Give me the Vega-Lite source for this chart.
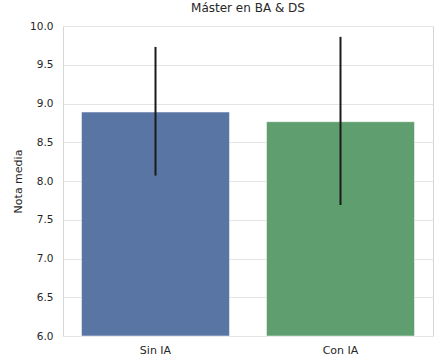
{
  "$schema": "https://vega.github.io/schema/vega-lite/v6.json",
  "width": 370,
  "height": 310,
  "autosize": {"type": "none"},
  "padding": {"left": 63, "top": 26, "right": 2, "bottom": 22},
  "config": {
    "font": "DejaVu Sans",
    "view": {"stroke": "#d6d6d6", "strokeWidth": 1},
    "axis": {
      "labelFont": "DejaVu Sans",
      "titleFont": "DejaVu Sans",
      "labelColor": "#262626",
      "titleColor": "#262626",
      "labelFontSize": 10.5,
      "titleFontSize": 11,
      "titleFontWeight": "normal",
      "labelOverlap": false,
      "domain": false,
      "ticks": false,
      "gridColor": "#e4e4e4",
      "gridWidth": 1
    }
  },
  "title": {
    "text": "Máster en BA & DS",
    "font": "DejaVu Sans",
    "fontSize": 12,
    "fontWeight": "normal",
    "color": "#262626",
    "offset": 6
  },
  "data": {
    "values": [
      {"grupo": "Sin IA", "media": 8.89, "lo": 8.07, "hi": 9.73},
      {"grupo": "Con IA", "media": 8.765, "lo": 7.69, "hi": 9.86}
    ]
  },
  "encoding": {
    "x": {
      "field": "grupo",
      "type": "nominal",
      "sort": ["Sin IA", "Con IA"],
      "scale": {"paddingInner": 0.2, "paddingOuter": 0.1},
      "axis": {"title": null, "labelAngle": 0, "labelPadding": 8, "labelFontSize": 11, "grid": false}
    }
  },
  "layer": [
    {
      "mark": {"type": "bar", "stroke": "white", "strokeWidth": 0.5},
      "encoding": {
        "y": {
          "field": "media",
          "type": "quantitative",
          "scale": {"domain": [6, 10], "clamp": true, "nice": false, "zero": false},
          "axis": {
            "title": "Nota media",
            "tickCount": 8,
            "format": ".1f",
            "labelPadding": 10,
            "titlePadding": 6,
            "grid": true
          }
        },
        "y2": {"datum": 6},
        "color": {
          "field": "grupo",
          "type": "nominal",
          "scale": {"domain": ["Sin IA", "Con IA"], "range": ["#5975a4", "#5f9e6e"]},
          "legend": null
        }
      }
    },
    {
      "mark": {"type": "rule", "color": "#1a1a1a", "strokeWidth": 2},
      "encoding": {
        "y": {"field": "lo", "type": "quantitative"},
        "y2": {"field": "hi"}
      }
    }
  ]
}
